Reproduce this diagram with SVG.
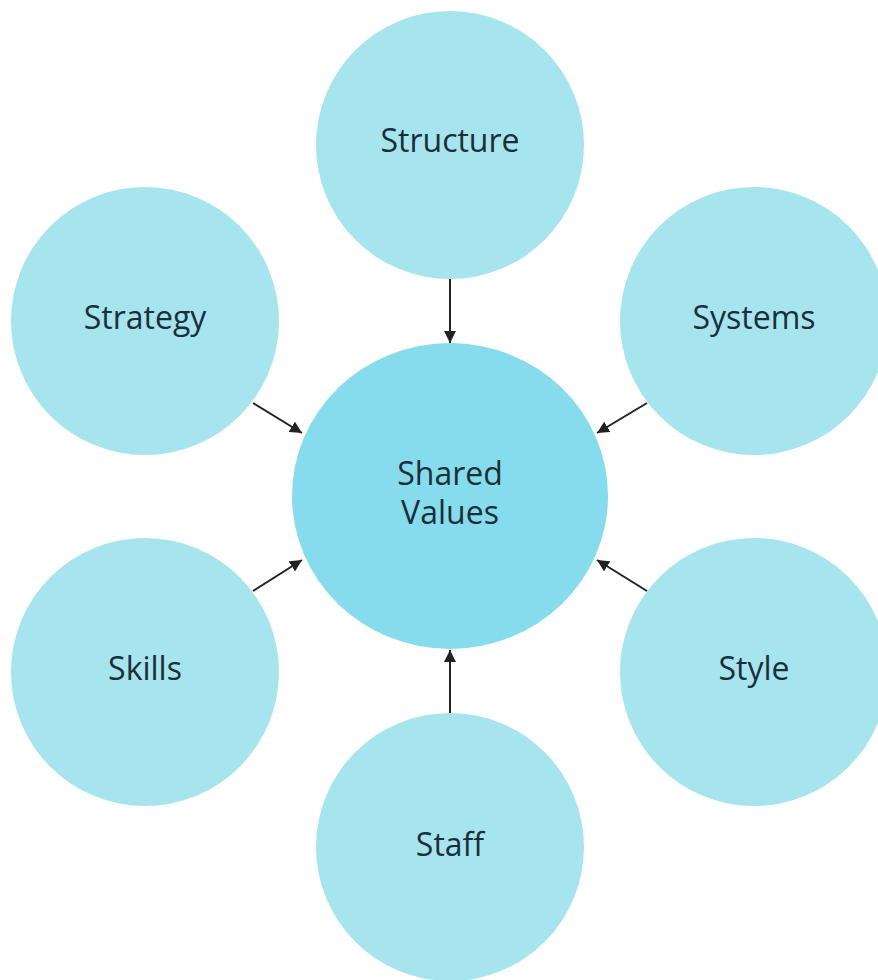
<svg xmlns="http://www.w3.org/2000/svg" width="878" height="980" viewBox="0 0 878 980">
<style>
.outer{fill:#a6e5ee;}
.center{fill:#86dcec;}
.lbl{font-family:"Open Sans","Noto Sans",sans-serif;font-size:32px;fill:#1a2f3a;text-anchor:middle;}
.conn{stroke:#222;stroke-width:2;fill:none;marker-end:url(#ah);}
</style>
<defs>
<marker id="ah" viewBox="0 0 10 10" refX="10" refY="5" markerWidth="6" markerHeight="6" markerUnits="strokeWidth" orient="auto">
<path d="M0,0 L10,5 L0,10 z" fill="#222"/>
</marker>
</defs>
<rect width="878" height="980" fill="#fff"/>
<g id="node-structure"><circle class="outer" cx="450" cy="145" r="134"/><text class="lbl" x="450" y="152">Structure</text></g>
<g id="node-strategy"><circle class="outer" cx="145" cy="321" r="134"/><text class="lbl" x="145" y="329">Strategy</text></g>
<g id="node-systems"><circle class="outer" cx="754" cy="321" r="134"/><text class="lbl" x="754" y="329">Systems</text></g>
<g id="node-skills"><circle class="outer" cx="145" cy="672" r="134"/><text class="lbl" x="145" y="680">Skills</text></g>
<g id="node-style"><circle class="outer" cx="754" cy="672" r="134"/><text class="lbl" x="754" y="680">Style</text></g>
<g id="node-staff"><circle class="outer" cx="450" cy="847" r="134"/><text class="lbl" x="450" y="856">Staff</text></g>
<g id="node-shared"><ellipse class="center" cx="450" cy="496" rx="158" ry="153"/><text class="lbl" x="450" y="485">Shared</text><text class="lbl" x="450" y="524">Values</text></g>
<g id="connectors">
<line class="conn" x1="450" y1="279" x2="450" y2="343"/>
<line class="conn" x1="253" y1="403" x2="302" y2="433"/>
<line class="conn" x1="647" y1="403" x2="597" y2="433"/>
<line class="conn" x1="253" y1="591" x2="302" y2="560"/>
<line class="conn" x1="647" y1="591" x2="597" y2="560"/>
<line class="conn" x1="450" y1="713" x2="450" y2="650"/>
</g>
</svg>
